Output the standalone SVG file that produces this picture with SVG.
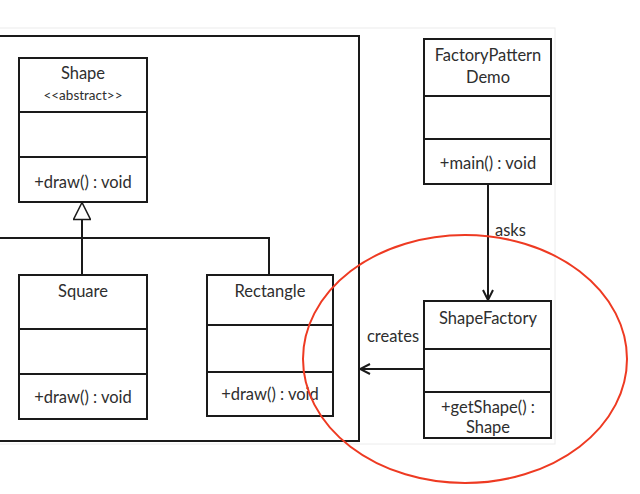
<svg xmlns="http://www.w3.org/2000/svg" width="640" height="494" viewBox="0 0 640 494">
<defs>
<style>
.box{fill:#fff;stroke:#1a1a1a;stroke-width:2}
.div{stroke:#1a1a1a;stroke-width:2}
.t{font-family:Lato,"Liberation Sans",sans-serif;font-size:16.5px;fill:#2e2e2e;text-anchor:middle}
.s{font-size:13.5px}
.ln{fill:none;stroke:#1a1a1a;stroke-width:2}
</style>
<marker id="open" viewBox="0 0 12 12" refX="11" refY="6" markerWidth="12" markerHeight="12" markerUnits="userSpaceOnUse" orient="auto">
<path d="M1,1 L11,6 L1,11" fill="none" stroke="#1a1a1a" stroke-width="2"/>
</marker>
<marker id="tri" viewBox="0 0 24 18" refX="23" refY="9" markerWidth="24" markerHeight="18" markerUnits="userSpaceOnUse" orient="auto">
<path d="M23,9 L6,0.5 L6,17.5 Z" fill="#fff" stroke="#1a1a1a" stroke-width="1.5"/>
</marker>
</defs>
<rect width="640" height="494" fill="#fff"/>
<rect x="-1" y="28" width="556" height="416" fill="none" stroke="#ececec" stroke-width="1"/>
<g id="frame">
<path class="ln" d="M0,36 L359,36 L359,441 L0,441"/>
</g>
<g id="connectors">
<path class="ln" d="M82,275 L82,238"/>
<path class="ln" d="M269,275 L269,238 L0,238"/>
<path class="ln" d="M82,238 L82,202.5" marker-end="url(#tri)"/>
<path class="ln" d="M488,184 L488,300" marker-end="url(#open)"/>
<path class="ln" d="M424,369 L360,369" marker-end="url(#open)"/>
<text class="t" x="495" y="236" style="text-anchor:start">asks</text>
<text class="t" x="393" y="342">creates</text>
</g>
<g id="shape">
<rect class="box" x="19" y="58" width="128" height="144"/>
<line class="div" x1="19" y1="112" x2="147" y2="112"/>
<line class="div" x1="19" y1="157" x2="147" y2="157"/>
<text class="t" x="83" y="79">Shape</text>
<text class="t s" x="83" y="100">&lt;&lt;abstract&gt;&gt;</text>
<text class="t" x="83" y="188">+draw() : void</text>
</g>
<g id="square">
<rect class="box" x="19" y="275" width="128" height="144"/>
<line class="div" x1="19" y1="329" x2="147" y2="329"/>
<line class="div" x1="19" y1="374" x2="147" y2="374"/>
<text class="t" x="83" y="297">Square</text>
<text class="t" x="83" y="403">+draw() : void</text>
</g>
<g id="rectangle">
<rect class="box" x="207" y="275" width="126" height="141"/>
<line class="div" x1="207" y1="325" x2="333" y2="325"/>
<line class="div" x1="207" y1="372" x2="333" y2="372"/>
<text class="t" x="270" y="297">Rectangle</text>
<text class="t" x="270" y="400">+draw() : void</text>
</g>
<g id="factorypatterndemo">
<rect class="box" x="424" y="39" width="127" height="145"/>
<line class="div" x1="424" y1="96" x2="551" y2="96"/>
<line class="div" x1="424" y1="139" x2="551" y2="139"/>
<text class="t" x="488" y="61">FactoryPattern</text>
<text class="t" x="488" y="83">Demo</text>
<text class="t" x="488" y="169">+main() : void</text>
</g>
<g id="shapefactory">
<rect class="box" x="424" y="301" width="127" height="137"/>
<line class="div" x1="424" y1="349" x2="551" y2="349"/>
<line class="div" x1="424" y1="392" x2="551" y2="392"/>
<text class="t" x="488" y="324">ShapeFactory</text>
<text class="t" x="488" y="413">+getShape() :</text>
<text class="t" x="488" y="433">Shape</text>
</g>
<g id="highlight">
<ellipse cx="465" cy="359" rx="162" ry="124" fill="none" stroke="#ee3a22" stroke-width="2"/>
</g>
</svg>
